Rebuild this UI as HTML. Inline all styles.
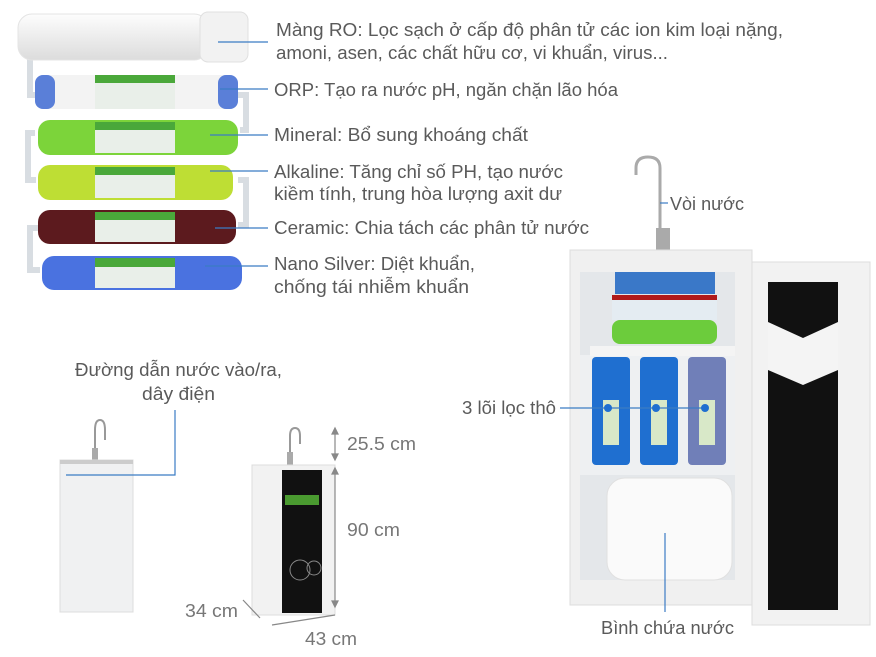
<!DOCTYPE html>
<html><head><meta charset="utf-8"><style>
body{margin:0;background:#fff;width:876px;height:657px;overflow:hidden;font-family:"Liberation Sans",sans-serif}
svg{position:absolute;left:0;top:0}
text{font-family:"Liberation Sans",sans-serif;font-size:18px;fill:#5a5a5a}
</style></head><body>
<svg width="876" height="657" viewBox="0 0 876 657">
<defs>
<linearGradient id="w" x1="0" y1="0" x2="0" y2="1"><stop offset="0" stop-color="#fdfdfd"/><stop offset="1" stop-color="#dcdcdc"/></linearGradient>
</defs>
<g fill="none" stroke="#d8dde2" stroke-width="6">
<path d="M30 55 V95 H38"/><path d="M238 95 H246 V130 H240"/><path d="M35 133 H28 V180 H36"/><path d="M238 180 H246 V225 H238"/><path d="M38 228 H30 V270 H40"/>
</g>
<rect x="18" y="14" width="190" height="46" rx="14" fill="url(#w)" stroke="#e4e4e4"/>
<rect x="200" y="12" width="48" height="50" rx="8" fill="#f2f2f2" stroke="#e0e0e0"/>
<rect x="35" y="75" width="203" height="34" rx="10" fill="#f3f3f3"/>
<rect x="35" y="75" width="20" height="34" rx="8" fill="#5a7fd8"/><rect x="218" y="75" width="20" height="34" rx="8" fill="#5a7fd8"/>
<rect x="38" y="120" width="200" height="35" rx="12" fill="#7cd43a"/>
<rect x="38" y="165" width="195" height="35" rx="12" fill="#bede34"/>
<rect x="38" y="210" width="198" height="34" rx="12" fill="#5c1a1e"/>
<rect x="42" y="256" width="200" height="34" rx="12" fill="#4a72e0"/>
<g fill="#e9efe9"><rect x="95" y="75" width="80" height="34"/><rect x="95" y="122" width="80" height="31"/><rect x="95" y="167" width="80" height="31"/><rect x="95" y="212" width="80" height="30"/><rect x="95" y="258" width="80" height="30"/></g>
<g fill="#4aa83a"><rect x="95" y="75" width="80" height="8"/><rect x="95" y="122" width="80" height="8"/><rect x="95" y="167" width="80" height="8"/><rect x="95" y="212" width="80" height="8"/><rect x="95" y="258" width="80" height="9"/></g>
<g stroke="#3b7cc4" stroke-width="1.2">
<line x1="218" y1="42" x2="268" y2="42"/><line x1="220" y1="89" x2="268" y2="89"/><line x1="210" y1="135" x2="268" y2="135"/><line x1="210" y1="171" x2="268" y2="171"/><line x1="215" y1="228" x2="268" y2="228"/><line x1="205" y1="266" x2="268" y2="266"/>
</g>
<text x="276" y="36" textLength="507" lengthAdjust="spacingAndGlyphs">Màng RO: Lọc sạch ở cấp độ phân tử các ion kim loại nặng,</text>
<text x="276" y="59" textLength="392" lengthAdjust="spacingAndGlyphs">amoni, asen, các chất hữu cơ, vi khuẩn, virus...</text>
<text x="274" y="96" textLength="344" lengthAdjust="spacingAndGlyphs">ORP: Tạo ra nước pH, ngăn chặn lão hóa</text>
<text x="274" y="141" textLength="254" lengthAdjust="spacingAndGlyphs">Mineral: Bổ sung khoáng chất</text>
<text x="274" y="178" textLength="289" lengthAdjust="spacingAndGlyphs">Alkaline: Tăng chỉ số PH, tạo nước</text>
<text x="274" y="200" textLength="288" lengthAdjust="spacingAndGlyphs">kiềm tính, trung hòa lượng axit dư</text>
<text x="274" y="234" textLength="315" lengthAdjust="spacingAndGlyphs">Ceramic: Chia tách các phân tử nước</text>
<text x="274" y="270" textLength="201" lengthAdjust="spacingAndGlyphs">Nano Silver: Diệt khuẩn,</text>
<text x="274" y="293" textLength="195" lengthAdjust="spacingAndGlyphs">chống tái nhiễm khuẩn</text>

<path d="M95 460 V430 Q95 420 100 420 Q105 420 105 430 V440" fill="none" stroke="#999" stroke-width="2"/>
<rect x="92" y="448" width="6" height="12" fill="#aaa"/>
<rect x="60" y="460" width="73" height="152" fill="#f0f1f2" stroke="#ddd"/>
<rect x="60" y="460" width="73" height="4" fill="#ccc"/>
<path d="M175 410 V475 H66" fill="none" stroke="#3b7cc4" stroke-width="1.2"/>
<text x="75" y="376" textLength="207" lengthAdjust="spacingAndGlyphs">Đường dẫn nước vào/ra,</text>
<text x="142" y="400" textLength="73" lengthAdjust="spacingAndGlyphs">dây điện</text>

<path d="M290 465 V436 Q290 428 295 428 Q300 428 300 436 V444" fill="none" stroke="#999" stroke-width="2"/>
<rect x="287" y="452" width="6" height="13" fill="#aaa"/>
<rect x="252" y="465" width="83" height="150" fill="#f2f2f2" stroke="#ddd"/>
<rect x="282" y="470" width="40" height="143" fill="#111"/>
<rect x="285" y="495" width="34" height="10" fill="#4a9a30"/>
<circle cx="300" cy="570" r="10" fill="none" stroke="#888"/><circle cx="314" cy="568" r="7" fill="none" stroke="#888"/>
<g stroke="#888" stroke-width="1.2" fill="#888">
<line x1="335" y1="430" x2="335" y2="458"/><path d="M332 434 L335 428 L338 434Z"/><path d="M332 454 L335 460 L338 454Z"/>
<line x1="335" y1="470" x2="335" y2="605"/><path d="M332 474 L335 468 L338 474Z"/><path d="M332 601 L335 607 L338 601Z"/>
<line x1="243" y1="600" x2="260" y2="618"/>
<line x1="272" y1="625" x2="335" y2="615"/>
</g>
<text x="347" y="450" style="fill:#777" textLength="69" lengthAdjust="spacingAndGlyphs">25.5 cm</text>
<text x="347" y="536" style="fill:#777" textLength="53" lengthAdjust="spacingAndGlyphs">90 cm</text>
<text x="185" y="617" style="fill:#777" textLength="53" lengthAdjust="spacingAndGlyphs">34 cm</text>
<text x="305" y="645" style="fill:#777" textLength="52" lengthAdjust="spacingAndGlyphs">43 cm</text>

<path d="M660 250 V168 Q660 157 648 157 Q636 157 636 168 V175" fill="none" stroke="#aaa" stroke-width="3"/>
<rect x="656" y="228" width="14" height="22" fill="#aaa"/>
<rect x="570" y="250" width="182" height="355" fill="#f0f0f0" stroke="#ddd"/>
<rect x="580" y="272" width="155" height="308" fill="#e4e7ea"/>
<rect x="580" y="355" width="155" height="120" fill="#eef0f2"/>
<rect x="615" y="272" width="100" height="22" fill="#3a78c8"/>
<rect x="612" y="295" width="105" height="15" fill="#b01a1a"/>
<rect x="612" y="300" width="105" height="20" fill="#e4ecf2"/>
<rect x="612" y="320" width="105" height="24" rx="8" fill="#6ccc3c"/>
<rect x="590" y="346" width="145" height="10" fill="#f4f4f4"/>
<rect x="592" y="357" width="38" height="108" rx="4" fill="#1f6fd0"/>
<rect x="640" y="357" width="38" height="108" rx="4" fill="#1f6fd0"/>
<rect x="688" y="357" width="38" height="108" rx="4" fill="#3a4ea0" opacity="0.7"/>
<g fill="#d8e8c8"><rect x="603" y="400" width="16" height="45"/><rect x="651" y="400" width="16" height="45"/><rect x="699" y="400" width="16" height="45"/></g>
<rect x="607" y="478" width="125" height="102" rx="18" fill="#fafafa" stroke="#e0e0e0"/>
<rect x="752" y="262" width="118" height="363" fill="#f2f2f2" stroke="#ddd"/>
<rect x="768" y="282" width="70" height="328" fill="#111"/>
<path d="M768 322 L803 338 L838 322 V370 L803 385 L768 370Z" fill="#f4f4f4"/>
<g stroke="#3b7cc4" stroke-width="1.2">
<line x1="560" y1="408" x2="705" y2="408"/><line x1="665" y1="533" x2="665" y2="612"/><line x1="660" y1="203" x2="668" y2="203"/>
</g>
<g fill="#1f6fd0"><circle cx="608" cy="408" r="4"/><circle cx="656" cy="408" r="4"/><circle cx="705" cy="408" r="4"/></g>
<text x="670" y="210" textLength="74" lengthAdjust="spacingAndGlyphs">Vòi nước</text>
<text x="462" y="414" textLength="94" lengthAdjust="spacingAndGlyphs">3 lõi lọc thô</text>
<text x="601" y="634" textLength="133" lengthAdjust="spacingAndGlyphs">Bình chứa nước</text>
</svg>
</body></html>
